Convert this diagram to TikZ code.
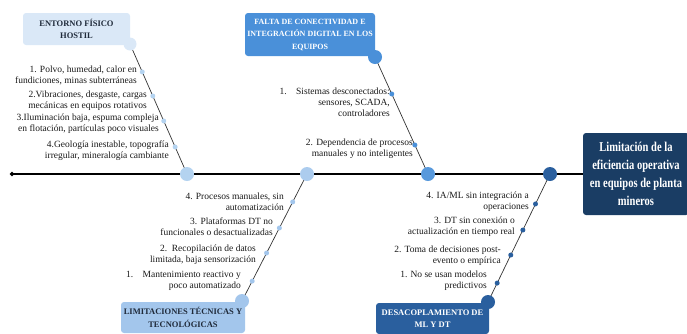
\documentclass[tikz,border=0pt]{standalone}
\usepackage{fontspec}
\setmainfont{Liberation Serif}
\newfontfamily\condfont[FakeStretch=0.78]{Liberation Serif}
\usetikzlibrary{calc,shapes.geometric}
\definecolor{boxA}{HTML}{DAE8F7}
\definecolor{dotA}{HTML}{B4D3F0}
\definecolor{boxB}{HTML}{4A90D9}
\definecolor{boxC}{HTML}{A3C6EC}
\definecolor{boxD}{HTML}{2A5F9E}
\definecolor{mainbox}{HTML}{1A3D64}
\definecolor{darktxt}{HTML}{1F2A3A}
\begin{document}
\begin{tikzpicture}[x=1pt,y=-1pt,
  hdr/.style={rounded corners=3pt, inner sep=0pt, align=center,
    font=\fontsize{8.5}{12.5}\selectfont\bfseries},
  item/.style={inner sep=0pt, anchor=east, align=right,
    font=\fontsize{9.5}{11}\selectfont, text=black!90},
  bigdot/.style={circle, inner sep=0pt, minimum size=14pt},
  smalldot/.style={circle, inner sep=0pt, minimum size=5pt},
  bone/.style={draw=black!80, line width=0.7pt}
]
\useasboundingbox (0,0) rectangle (687,333);

% spine
\node[diamond, fill=black, inner sep=0pt, minimum size=5pt] (tail) at (12,174) {};
\node[hdr, fill=mainbox, text=white, minimum width=106pt, minimum height=82pt,
  font=\fontsize{13.5}{18}\condfont\bfseries] (effect) at (636,174)
  {Limitación de la\\eficiencia operativa\\en equipos de planta\\mineros};
\draw[line width=1.6pt] (tail.center) -- (effect.west);

% category boxes
\node[hdr, fill=boxA, text=darktxt, minimum width=107pt, minimum height=32pt] (hA) at (76.5,29)
  {ENTORNO FÍSICO\\HOSTIL};
\node[hdr, fill=boxB, text=white, minimum width=130pt, minimum height=43pt,
  font=\fontsize{8}{12.5}\selectfont\bfseries] (hB) at (310,34.5)
  {FALTA DE CONECTIVIDAD E\\INTEGRACIÓN DIGITAL EN LOS\\EQUIPOS};
\node[hdr, fill=boxC, text=darktxt, minimum width=124pt, minimum height=31pt] (hC) at (183,317.5)
  {LIMITACIONES TÉCNICAS Y\\TECNOLÓGICAS};
\node[hdr, fill=boxD, text=white, minimum width=113pt, minimum height=31pt] (hD) at (432.5,318.5)
  {DESACOPLAMIENTO DE\\ML Y DT};

% joint coordinates
\coordinate (cA) at (130,44);
\coordinate (sA) at (187,174);
\coordinate (cB) at (375,57);
\coordinate (sB) at (428,174);
\coordinate (cC) at (242,301);
\coordinate (sC) at (307,174);
\coordinate (cD) at (488,302);
\coordinate (sD) at (550,174);

% bones
\draw[bone] (cA) -- (sA);
\draw[bone] (cB) -- (sB);
\draw[bone] (cC) -- (sC);
\draw[bone] (cD) -- (sD);

% big circles
\node[bigdot, fill=boxA, minimum size=13pt] (kA) at (cA) {};
\node[bigdot, fill=dotA] (jA) at (sA) {};
\node[bigdot, fill=boxB] (kB) at (cB) {};
\node[bigdot, fill=boxB!92!white] (jB) at (sB) {};
\node[bigdot, fill=boxC] (kC) at (cC) {};
\node[bigdot, fill=boxC!90!white] (jC) at (sC) {};
\node[bigdot, fill=boxD] (kD) at (cD) {};
\node[bigdot, fill=boxD] (jD) at (sD) {};

% small dots
\node[smalldot, fill=dotA] (dA1) at ($(cA)!0.215!(sA)$) {};
\node[smalldot, fill=dotA] (dA2) at ($(cA)!0.40!(sA)$) {};
\node[smalldot, fill=dotA] (dA3) at ($(cA)!0.592!(sA)$) {};
\node[smalldot, fill=dotA] (dA4) at ($(cA)!0.792!(sA)$) {};
\node[smalldot, fill=boxB] (dB1) at ($(cB)!0.316!(sB)$) {};
\node[smalldot, fill=boxB] (dB2) at ($(cB)!0.752!(sB)$) {};
\node[smalldot, fill=boxC] (dC4) at ($(sC)!0.22!(cC)$) {};
\node[smalldot, fill=boxC] (dC3) at ($(sC)!0.425!(cC)$) {};
\node[smalldot, fill=boxC] (dC2) at ($(sC)!0.622!(cC)$) {};
\node[smalldot, fill=boxC] (dC1) at ($(sC)!0.843!(cC)$) {};
\node[smalldot, fill=boxD] (dD4) at ($(sD)!0.234!(cD)$) {};
\node[smalldot, fill=boxD] (dD3) at ($(sD)!0.4375!(cD)$) {};
\node[smalldot, fill=boxD] (dD2) at ($(sD)!0.633!(cD)$) {};
\node[smalldot, fill=boxD] (dD1) at ($(sD)!0.852!(cD)$) {};

% items
\node[item] (tA1) at (137,75) {1. Polvo, humedad, calor en\\fundiciones, minas subterráneas};
\node[item] (tA2) at (147,100.5) {2.Vibraciones, desgaste, cargas\\mecánicas en equipos rotativos};
\node[item] (tA3) at (159,124) {3.Iluminación baja, espuma compleja\\en flotación, partículas poco visuales};
\node[item] (tA4) at (169,151) {4.Geología inestable, topografía\\irregular, mineralogía cambiante};

\node[item] (tB1) at (390,102.5) {1.\quad Sistemas desconectados:\\sensores, SCADA,\\controladores};
\node[item] (tB2) at (413,148.5) {2. Dependencia de procesos\\manuales y no inteligentes};

\node[item] (tC4) at (284,201.5) {4. Procesos manuales, sin\\automatización};
\node[item] (tC3) at (273,226.5) {3. Plataformas DT no\\funcionales o desactualizadas};
\node[item] (tC2) at (256,254.5) {2.\ \ Recopilación de datos\\limitada, baja sensorización};
\node[item] (tC1) at (241,280.5) {1.\quad Mantenimiento reactivo y\\poco automatizado};

\node[item] (tD4) at (529,201.5) {4. IA/ML sin integración a\\operaciones};
\node[item] (tD3) at (515,226.5) {3. DT sin conexión o\\actualización en tiempo real};
\node[item] (tD2) at (501,255.5) {2. Toma de decisiones post-\\evento o empírica};
\node[item] (tD1) at (487,280.5) {1. No se usan modelos\\predictivos};
\end{tikzpicture}
\end{document}
